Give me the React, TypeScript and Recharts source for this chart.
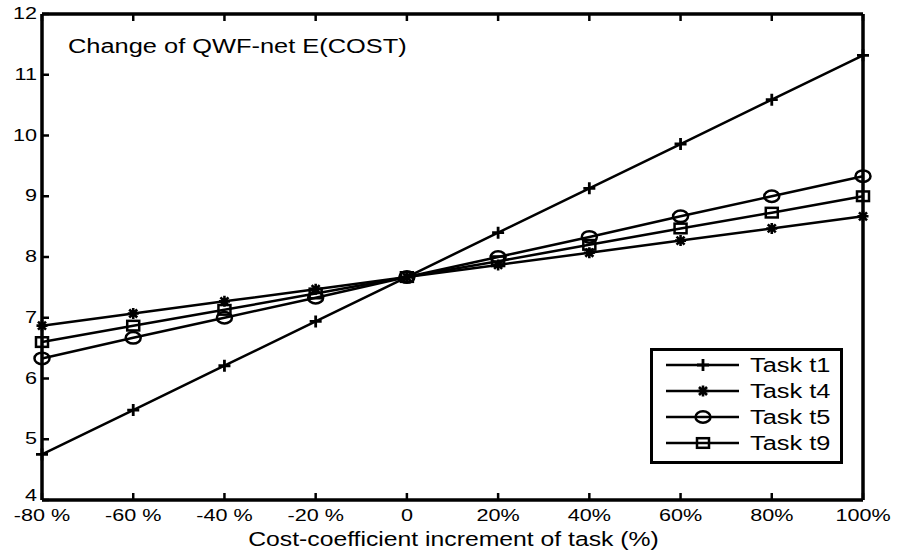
import React from "react"
import { Legend, Line, LineChart, XAxis, YAxis } from "recharts"

// MATLAB-style black figure, text is horizontally stretched in the source
const FONT = "'Liberation Sans', Arial, sans-serif"
const SX = 1.27

const pct = [-80, -60, -40, -20, 0, 20, 40, 60, 80, 100]
const xTickLabels = ["-80 %", "-60 %", "-40 %", "-20 %", "0", "20%", "40%", "60%", "80%", "100%"]
const yTicks = [4, 5, 6, 7, 8, 9, 10, 11, 12]

const t1 = [4.75, 5.48, 6.21, 6.94, 7.67, 8.4, 9.13, 9.86, 10.59, 11.32]
const t4 = [6.87, 7.07, 7.27, 7.47, 7.67, 7.87, 8.07, 8.27, 8.47, 8.67]
const t5 = [6.33, 6.67, 7.0, 7.33, 7.67, 8.0, 8.33, 8.67, 9.0, 9.33]
const t9 = [6.6, 6.87, 7.13, 7.4, 7.67, 7.93, 8.2, 8.47, 8.73, 9.0]

const seriesNames = ["Task t1", "Task t4", "Task t5", "Task t9"]

const data = pct.map((x, i) => ({ x, t1: t1[i], t4: t4[i], t5: t5[i], t9: t9[i] }))

function SText({ x, y, size, anchor = "start", children }: any) {
  return (
    <text
      transform={`translate(${x},${y}) scale(${SX},1)`}
      textAnchor={anchor}
      fontSize={size}
      fontFamily={FONT}
      fill="#000"
    >
      {children}
    </text>
  )
}

const Plus = ({ cx, cy }: any) => (
  <path d={`M${cx - 6},${cy}H${cx + 6}M${cx},${cy - 6}V${cy + 6}`} stroke="#000" strokeWidth={2.8} fill="none" />
)
const Star = ({ cx, cy }: any) => (
  <path
    d={`M${cx - 5.5},${cy}H${cx + 5.5}M${cx},${cy - 5.5}V${cy + 5.5}M${cx - 4},${cy - 4}L${cx + 4},${cy + 4}M${cx - 4},${cy + 4}L${cx + 4},${cy - 4}`}
    stroke="#000"
    strokeWidth={2.6}
    fill="none"
  />
)
const Circle = ({ cx, cy }: any) => (
  <ellipse cx={cx} cy={cy} rx={7.5} ry={5.8} stroke="#000" strokeWidth={2.5} fill="none" />
)
const Square = ({ cx, cy }: any) => (
  <rect x={cx - 6} y={cy - 4.8} width={12} height={9.6} stroke="#000" strokeWidth={2.5} fill="none" />
)

const markers = [Plus, Star, Circle, Square]
const keys = ["t1", "t4", "t5", "t9"]

const BottomTick = ({ x, y, payload }: any) => {
  const i = pct.indexOf(payload.value)
  return (
    <g>
      <line x1={x} x2={x} y1={y} y2={y - 7} stroke="#000" strokeWidth={2.5} />
      <SText x={x} y={y + 21} size={17} anchor="middle">
        {xTickLabels[i]}
      </SText>
    </g>
  )
}
const TopTick = ({ x, y }: any) => <line x1={x} x2={x} y1={y} y2={y + 7} stroke="#000" strokeWidth={2.5} />
const LeftTick = ({ x, y, payload }: any) => (
  <g>
    <line x1={x} x2={x + 7} y1={y} y2={y} stroke="#000" strokeWidth={2.5} />
    {/* lowest label sits a little higher so it clears "-80 %" */}
    <SText x={x - 5} y={payload.value === 4 ? y + 1 : y + 5} size={17} anchor="end">
      {payload.value}
    </SText>
  </g>
)
const RightTick = ({ x, y }: any) => <line x1={x} x2={x - 7} y1={y} y2={y} stroke="#000" strokeWidth={2.5} />

const LegendBox = () => (
  <div style={{ width: 187, height: 110, border: "3px solid #000", background: "#fff" }}>
    <svg width={187} height={110} style={{ display: "block" }}>
      {seriesNames.map((name, i) => {
        const y = 14 + i * 26
        const M = markers[i]
        return (
          <g key={name}>
            <line x1={13} x2={86} y1={y} y2={y} stroke="#000" strokeWidth={2.5} />
            <M cx={50} cy={y} />
            <SText x={97} y={y + 7} size={20}>
              {name}
            </SText>
          </g>
        )
      })}
    </svg>
  </div>
)

export default function App() {
  return (
    <div style={{ position: "relative", width: 907, height: 554, background: "#fff" }}>
      <style>{`body{margin:0}`}</style>
      <LineChart width={907} height={554} data={data} margin={{ top: 13, right: 43, bottom: 0, left: 0 }}>
        <XAxis
          dataKey="x"
          type="number"
          domain={[-80, 100]}
          ticks={pct}
          interval={0}
          height={54}
          tickLine={false}
          tickSize={0}
          tickMargin={0}
          tick={BottomTick}
          axisLine={{ stroke: "#000", strokeWidth: 3.5 }}
          label={{
            content: (p: any) => {
              const vb = p.viewBox
              return (
                <SText x={vb.x + vb.width / 2 + 1} y={546} size={19.5} anchor="middle">
                  Cost-coefficient increment of task (%)
                </SText>
              )
            },
          }}
        />
        <XAxis
          xAxisId="top"
          orientation="top"
          dataKey="x"
          type="number"
          domain={[-80, 100]}
          ticks={pct}
          interval={0}
          height={1}
          tickLine={false}
          tickSize={0}
          tickMargin={0}
          tick={TopTick}
          axisLine={{ stroke: "#000", strokeWidth: 3.5 }}
        />
        <YAxis
          domain={[4, 12]}
          ticks={yTicks}
          interval={0}
          width={42}
          tickLine={false}
          tickSize={0}
          tickMargin={0}
          tick={LeftTick}
          axisLine={{ stroke: "#000", strokeWidth: 3.5 }}
        />
        <YAxis
          yAxisId="right"
          orientation="right"
          domain={[4, 12]}
          ticks={yTicks}
          interval={0}
          width={1}
          tickLine={false}
          tickSize={0}
          tickMargin={0}
          tick={RightTick}
          axisLine={{ stroke: "#000", strokeWidth: 3.5 }}
        />
        {keys.map((k, i) => {
          const M = markers[i]
          return (
            <Line
              key={k}
              dataKey={k}
              name={seriesNames[i]}
              stroke="#000"
              strokeWidth={2.5}
              isAnimationActive={false}
              dot={(p: any) => <M key={`${k}-${p.index}`} cx={p.cx} cy={p.cy} />}
              activeDot={false}
            />
          )
        })}
        <Legend
          layout="vertical"
          align="center"
          verticalAlign="middle"
          content={() => <LegendBox />}
          wrapperStyle={{ left: 650, top: 348, width: 193, height: 116 }}
        />
      </LineChart>
      <svg width={907} height={60} style={{ position: "absolute", left: 0, top: 0, pointerEvents: "none" }}>
        <SText x={68} y={53} size={20}>
          Change of QWF-net E(COST)
        </SText>
      </svg>
    </div>
  )
}
